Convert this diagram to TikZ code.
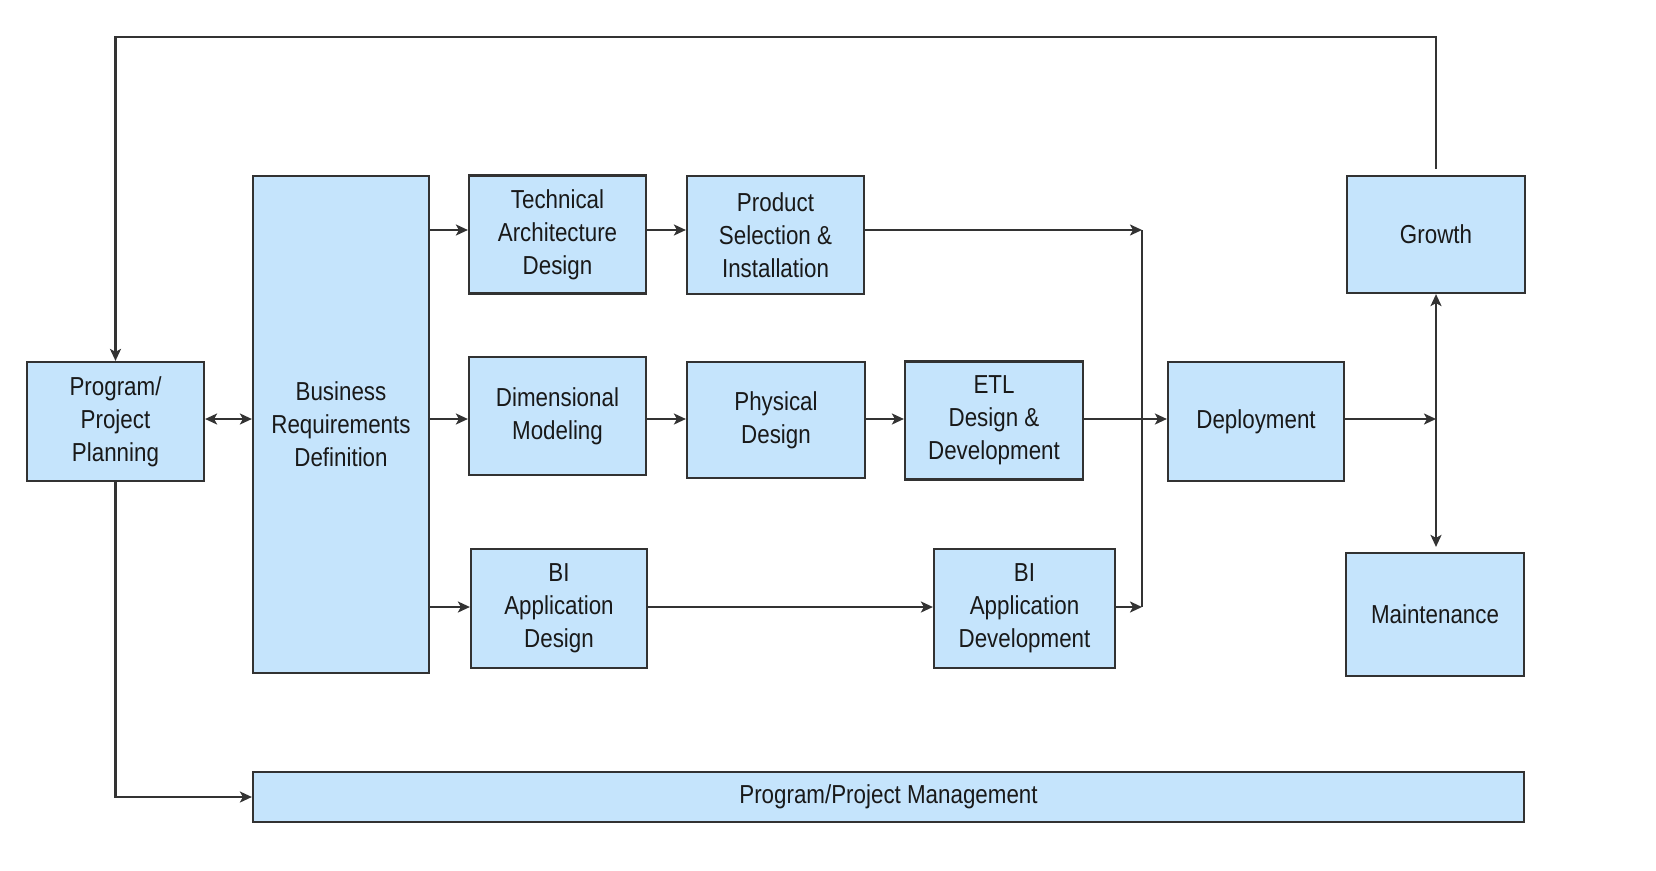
\documentclass[tikz,border=0pt]{standalone}
\usepackage{fontspec}
\setmainfont{Liberation Sans}[FakeStretch=0.86]
\usetikzlibrary{positioning,calc,arrows.meta}
\definecolor{boxblue}{RGB}{197,228,252}
\definecolor{edgegray}{RGB}{50,50,50}

\begin{document}
\begin{tikzpicture}[x=1pt, y=-1pt,
    bi block/.style={draw=edgegray, line width=2.2pt, fill=boxblue, rectangle, inner sep=0pt,
      minimum width=177pt, minimum height=118pt, align=center,
      font=\fontsize{26}{33}\selectfont, text=black!90},
    link/.style={draw=black!80, line width=2.2pt},
    >={Stealth[length=12pt,width=11pt,inset=3pt]}]
    \useasboundingbox (0,0) rectangle (1656,870);

    \node[bi block, minimum height=119pt] (plan) at (115.5,421.5) {Program/\\Project\\Planning};
    \node[bi block, minimum width=176pt, minimum height=497pt] (brd) at (341,424.5) {Business\\Requirements\\Definition};
    \node[bi block] (tad) at (557.5,234.5) {Technical\\Architecture\\Design};
    \node[bi block] (psi) at (775.5,235) {Product\\Selection \&\\Installation};
    \node[bi block] (dm) at (557.5,416) {Dimensional\\Modeling};
    \node[bi block, minimum width=178pt, minimum height=116pt] (pd) at (776,420) {Physical\\Design};
    \node[bi block, minimum width=178pt] (etl) at (994,420.5) {ETL\\Design \&\\Development};
    \node[bi block, minimum width=176pt, minimum height=119pt] (biad) at (559,608.5) {BI\\Application\\Design};
    \node[bi block, minimum width=181pt, minimum height=119pt] (bidev) at (1024.5,608.5) {BI\\Application\\Development};
    \node[bi block, minimum width=176pt, minimum height=119pt] (dep) at (1256,421.5) {Deployment};
    \node[bi block, minimum width=178pt, minimum height=117pt] (grow) at (1436,234.5) {Growth};
    \node[bi block, minimum width=178pt, minimum height=123pt] (maint) at (1435,614.5) {Maintenance};
    \node[bi block, minimum width=1271pt, minimum height=50pt] (ppm) at (888.5,797) {Program/Project Management};

    % rows and bus in front of deployment
    \coordinate (row1) at (0,230);
    \coordinate (row2) at (0,419);
    \coordinate (bus top) at (1142,230);
    \coordinate (bus bot) at (1142,607);
    \coordinate (fork) at (grow.south |- row2);

    \draw[link,<->] (plan.east |- row2) -- (brd.west |- row2);
    \draw[link,->] (brd.east |- row1) -- (tad.west |- row1);
    \draw[link,->] (tad.east |- row1) -- (psi.west |- row1);
    \draw[link,->] (psi.east |- row1) -- (bus top);
    \draw[link,->] (brd.east |- row2) -- (dm.west |- row2);
    \draw[link,->] (dm.east |- row2) -- (pd.west |- row2);
    \draw[link,->] (pd.east |- row2) -- (etl.west |- row2);
    \draw[link,->] (etl.east |- row2) -- (dep.west |- row2);
    \draw[link,->] (brd.east |- bus bot) -- (biad.west |- bus bot);
    \draw[link,->] (biad.east |- bus bot) -- (bidev.west |- bus bot);
    \draw[link,->] (bidev.east |- bus bot) -- (bus bot);
    \draw[link] (bus top) -- (bus bot);
    \draw[link,->] (dep.east |- row2) -- (fork);
    \draw[link,<->, shorten >=5pt] (grow.south) -- (grow.south |- maint.north);

    % feedback loop and management bar
    \draw[link,->, shorten <=6pt] (grow.north) -- ++(0,-138) -| (plan.north);
    \draw[link,->] (plan.south) |- (ppm.west);

\end{tikzpicture}
\end{document}
